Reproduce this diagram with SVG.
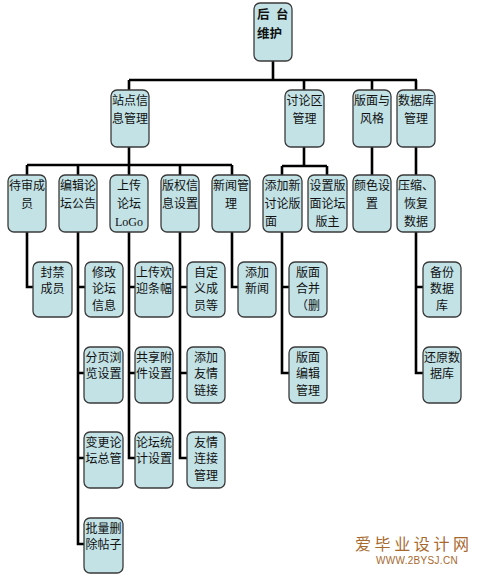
<svg xmlns="http://www.w3.org/2000/svg" width="481" height="578" viewBox="0 0 481 578">
<style>
.b{fill:#c2e2e6;stroke:#3a3a3a;stroke-width:1.3}
.t{font-family:"Noto Sans CJK SC","Noto Sans CJK TC",sans-serif;font-size:12px;fill:#111;text-anchor:middle}
.r{font-family:"Noto Sans CJK SC",sans-serif;font-size:12.5px;font-weight:bold;fill:#111}
.c{fill:none;stroke:#000;stroke-width:2.6}
</style>
<rect width="481" height="578" fill="#fff"/>
<g id="connectors" class="c">
<path d="M273 61V80M129 80H417M129 80V90M304 80V90M372 80V90M416 80V90"/>
<path d="M129 147V165M27 165H232M27 165V175M78 165V175M129 165V175M180 165V175M232 165V175"/>
<path d="M304 147V166M282 166H327M282 166V175M327 166V175M372 147V175M416 147V175"/>
<path d="M27 232V287H33"/>
<path d="M78 232V544H84M78 287H85M78 373H84M78 458H84"/>
<path d="M129 232V458H135M129 287H135M129 373H135"/>
<path d="M180 232V458H187M180 287H187M180 373H187"/>
<path d="M232 232V287H238"/>
<path d="M282 232V373H289M282 287H289"/>
<path d="M416 232V373H423M416 287H423"/>
</g>
<g id="root"><rect class="b" x="254" y="3" width="38" height="58" rx="6"/><text class="r" x="257" y="19">后</text><text class="r" x="276" y="19">台</text><text class="r" x="257" y="37.5">维护</text></g>
<g id="n_zhandian"><rect class="b" x="111" y="90" width="38" height="57" rx="6"/><text class="t" x="130" y="104.5">站点信</text><text class="t" x="130" y="122.5">息管理</text></g>
<g id="n_taolun"><rect class="b" x="285" y="90" width="39" height="57" rx="6"/><text class="t" x="304.5" y="104.5">讨论区</text><text class="t" x="304.5" y="122.5">管理</text></g>
<g id="n_banmian"><rect class="b" x="353" y="90" width="38" height="57" rx="6"/><text class="t" x="372" y="104.5">版面与</text><text class="t" x="372" y="122.5">风格</text></g>
<g id="n_shujuku"><rect class="b" x="397" y="90" width="38" height="57" rx="6"/><text class="t" x="416" y="104.5">数据库</text><text class="t" x="416" y="122.5">管理</text></g>

<g id="n_daishen"><rect class="b" x="8" y="175" width="38" height="57" rx="6"/><text class="t" x="27" y="189.5">待审成</text><text class="t" x="27" y="207.5">员</text></g>
<g id="n_bianji"><rect class="b" x="59" y="175" width="38" height="57" rx="6"/><text class="t" x="78" y="189.5">编辑论</text><text class="t" x="78" y="207.5">坛公告</text></g>
<g id="n_logo"><rect class="b" x="110" y="175" width="38" height="57" rx="6"/><text class="t" x="129" y="189.5">上传</text><text class="t" x="129" y="207.5">论坛</text><text class="t" x="129" y="225.5" style="font-family:'Liberation Serif',serif">LoGo</text></g>
<g id="n_banquan"><rect class="b" x="161" y="175" width="38" height="57" rx="6"/><text class="t" x="180" y="189.5">版权信</text><text class="t" x="180" y="207.5">息设置</text></g>
<g id="n_xinwen"><rect class="b" x="212" y="175" width="38" height="57" rx="6"/><text class="t" x="231" y="189.5">新闻管</text><text class="t" x="231" y="207.5">理</text></g>
<g id="n_tianjiaban"><rect class="b" x="263" y="175" width="39" height="57" rx="6"/><text class="t" x="282.5" y="189.5">添加新</text><text class="t" x="282.5" y="207.5">讨论版</text><text class="t" x="265" y="225.5" style="text-anchor:start">面</text></g>
<g id="n_banzhu"><rect class="b" x="308" y="175" width="39" height="57" rx="6"/><text class="t" x="327.5" y="189.5">设置版</text><text class="t" x="327.5" y="207.5">面论坛</text><text class="t" x="327.5" y="225.5">版主</text></g>
<g id="n_yanse"><rect class="b" x="353" y="175" width="38" height="57" rx="6"/><text class="t" x="372" y="189.5">颜色设</text><text class="t" x="372" y="207.5">置</text></g>
<g id="n_yasuo"><rect class="b" x="397" y="175" width="38" height="57" rx="6"/><text class="t" x="416" y="189.5">压缩、</text><text class="t" x="416" y="207.5">恢复</text><text class="t" x="416" y="225.5">数据</text></g>

<g id="n_fengjin"><rect class="b" x="33" y="262" width="39" height="55" rx="6"/><text class="t" x="52.5" y="276.5">封禁</text><text class="t" x="52.5" y="293">成员</text></g>
<g id="n_xiugai"><rect class="b" x="85" y="262" width="38" height="55" rx="6"/><text class="t" x="104" y="276.5">修改</text><text class="t" x="104" y="293">论坛</text><text class="t" x="104" y="309.5">信息</text></g>
<g id="n_huanying"><rect class="b" x="135" y="262" width="38" height="55" rx="6"/><text class="t" x="154" y="276.5">上传欢</text><text class="t" x="154" y="293">迎条幅</text></g>
<g id="n_zidingyi"><rect class="b" x="187" y="262" width="38" height="55" rx="6"/><text class="t" x="206" y="276.5">自定</text><text class="t" x="206" y="293">义成</text><text class="t" x="206" y="309.5">员等</text></g>
<g id="n_tianjiaxinwen"><rect class="b" x="238" y="262" width="38" height="55" rx="6"/><text class="t" x="257" y="276.5">添加</text><text class="t" x="257" y="293">新闻</text></g>
<g id="n_hebing"><rect class="b" x="289" y="262" width="38" height="55" rx="6"/><text class="t" x="308" y="276.5">版面</text><text class="t" x="308" y="293">合并</text><text class="t" x="308" y="309.5">（删</text></g>
<g id="n_beifen"><rect class="b" x="423" y="262" width="38" height="55" rx="6"/><text class="t" x="442" y="276.5">备份</text><text class="t" x="442" y="293">数据</text><text class="t" x="442" y="309.5">库</text></g>

<g id="n_fenye"><rect class="b" x="84" y="347" width="39" height="56" rx="6"/><text class="t" x="103.5" y="361.5">分页浏</text><text class="t" x="103.5" y="378">览设置</text></g>
<g id="n_gongxiang"><rect class="b" x="135" y="347" width="38" height="56" rx="6"/><text class="t" x="154" y="361.5">共享附</text><text class="t" x="154" y="378">件设置</text></g>
<g id="n_youqing"><rect class="b" x="187" y="347" width="38" height="56" rx="6"/><text class="t" x="206" y="361.5">添加</text><text class="t" x="206" y="378">友情</text><text class="t" x="206" y="394.5">链接</text></g>
<g id="n_bianjiguanli"><rect class="b" x="289" y="347" width="38" height="56" rx="6"/><text class="t" x="308" y="361.5">版面</text><text class="t" x="308" y="378">编辑</text><text class="t" x="308" y="394.5">管理</text></g>
<g id="n_huanyuan"><rect class="b" x="423" y="347" width="38" height="56" rx="6"/><text class="t" x="442" y="361.5">还原数</text><text class="t" x="442" y="378">据库</text></g>

<g id="n_biangeng"><rect class="b" x="84" y="432" width="39" height="56" rx="6"/><text class="t" x="103.5" y="446.5">变更论</text><text class="t" x="103.5" y="463">坛总管</text></g>
<g id="n_tongji"><rect class="b" x="135" y="432" width="38" height="56" rx="6"/><text class="t" x="154" y="446.5">论坛统</text><text class="t" x="154" y="463">计设置</text></g>
<g id="n_lianjie"><rect class="b" x="187" y="432" width="38" height="56" rx="6"/><text class="t" x="206" y="446.5">友情</text><text class="t" x="206" y="463">连接</text><text class="t" x="206" y="479.5">管理</text></g>

<g id="n_piliang"><rect class="b" x="84" y="518" width="39" height="55" rx="6"/><text class="t" x="103.5" y="532.5">批量删</text><text class="t" x="103.5" y="549">除帖子</text></g>

<g id="watermark">
<text x="355" y="550" style="font-family:'Noto Sans CJK SC',serif;font-size:16px;fill:#a8692e;letter-spacing:3.6px">爱毕业设计网</text>
<text x="376" y="564" style="font-family:'Liberation Sans',sans-serif;font-size:10px;fill:#a8692e;letter-spacing:0.3px">WWW.2BYSJ.CN</text>
</g>
</svg>
